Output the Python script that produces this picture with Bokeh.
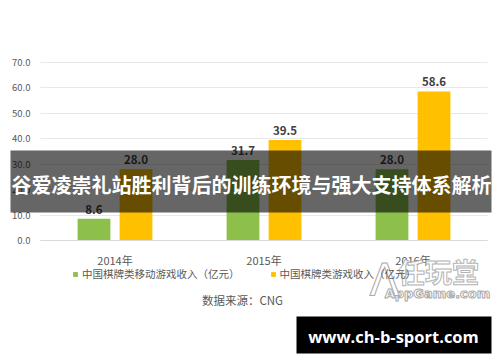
import numpy as np
from bokeh.plotting import figure
from bokeh.models import (Range1d, ColumnDataSource, FixedTicker,
                          NumeralTickFormatter, BoxAnnotation, Label)
from bokeh.transform import dodge
from bokeh.core.properties import value
from bokeh.embed import file_html
from bokeh.resources import INLINE

# ---- data ----
years = ["2014年", "2015年", "2016年"]
mobile_revenue = [8.6, 31.7, 28.0]   # 中国棋牌类移动游戏收入（亿元）
total_revenue = [28.0, 39.5, 58.6]   # 中国棋牌类游戏收入（亿元）
y_ticks = [0, 10, 20, 30, 40, 50, 60, 70]
mobile_name = "中国棋牌类移动游戏收入（亿元）"
total_name = "中国棋牌类游戏收入（亿元）"
source_text = "数据来源：CNG"
banner_text = "谷爱凌崇礼站胜利背后的训练环境与强大支持体系解析"
watermark_text = "www.ch-b-sport.com"

GREEN = "#8cc04b"
YELLOW = "#ffc000"
CJK = "Noto Sans CJK SC"

# ---- geometry (canvas pixels) ----
W_PX, H_PX = 500, 362
A_LEFT, A_RIGHT, A_TOP, A_BOTTOM = 40, 487, 62, 240
n = len(years)
ymax = y_ticks[-1]
xppu = (A_RIGHT - A_LEFT) / n
yppu = (A_BOTTOM - A_TOP) / ymax
x_range = Range1d(-A_LEFT / xppu, n + (W_PX - A_RIGHT) / xppu)
y_range = Range1d(-(H_PX - A_BOTTOM) / yppu, ymax + A_TOP / yppu)

xc = np.arange(n) + 0.5
src = ColumnDataSource(dict(
    x=xc,
    mobile=mobile_revenue,
    total=total_revenue,
    mobile_lbl=[f"{v:.1f}" for v in mobile_revenue],
    total_lbl=[f"{v:.1f}" for v in total_revenue],
))

p = figure(width=W_PX, height=H_PX, x_range=x_range, y_range=y_range,
           output_backend="svg", toolbar_location=None, min_border=0)
p.outline_line_color = None
p.background_fill_color = "white"
p.border_fill_color = "white"

OFF = 0.141
BW = 0.22
p.vbar(x=dodge("x", -OFF), top="mobile", width=BW, source=src,
       color=GREEN, line_color=None, legend_label=mobile_name)
p.vbar(x=dodge("x", OFF), top="total", width=BW, source=src,
       color=YELLOW, line_color=None, legend_label=total_name)

for lbl, ycol, off in (("mobile_lbl", "mobile", -OFF), ("total_lbl", "total", OFF)):
    p.text(x=dodge("x", off), y=ycol, text=lbl, source=src,
           text_align="center", text_baseline="bottom", y_offset=-5,
           text_font=value(CJK), text_font_size="11.5px", text_font_style="bold",
           text_color="#404040")

# ---- axes (fixed inside the canvas, zero panel size) ----
yt = FixedTicker(ticks=y_ticks)
p.yaxis.fixed_location = 0
p.yaxis.ticker = yt
p.yaxis.bounds = (0, ymax)
p.yaxis.formatter = NumeralTickFormatter(format="0.0")
p.yaxis.axis_line_color = None
p.yaxis.major_tick_line_color = None
p.yaxis.minor_tick_line_color = None
p.yaxis.major_tick_out = 0
p.yaxis.major_tick_in = 0
p.yaxis.major_label_standoff = 10
p.yaxis.major_label_text_font = CJK
p.yaxis.major_label_text_font_size = "9.5px"
p.yaxis.major_label_text_color = "#595959"

p.xaxis.fixed_location = 0
p.xaxis.ticker = FixedTicker(ticks=list(xc))
p.xaxis.major_label_overrides = {float(k): v for k, v in zip(xc, years)}
p.xaxis.bounds = (0, n)
p.xaxis.axis_line_color = "#d9d9d9"
p.xaxis.major_tick_line_color = None
p.xaxis.minor_tick_line_color = None
p.xaxis.major_tick_out = 0
p.xaxis.major_tick_in = 0
p.xaxis.major_label_standoff = 11
p.xaxis.major_label_text_font = CJK
p.xaxis.major_label_text_font_size = "11px"
p.xaxis.major_label_text_color = "#595959"

p.xgrid.grid_line_color = None
g = p.ygrid[0]
g.ticker = yt
g.grid_line_color = "#e8e8e8"
if "cross_bounds" in g.properties():
    g.cross_bounds = (0, n)

# ---- legend ----
lg = p.legend[0]
lg.location = (72, 81)
lg.orientation = "horizontal"
lg.border_line_color = None
lg.background_fill_alpha = 0
lg.padding = 0
lg.margin = 0
lg.spacing = 30
lg.glyph_width = 6
lg.glyph_height = 6
lg.label_standoff = 4
lg.label_height = 13
lg.label_text_font = CJK
lg.label_text_font_size = "10.5px"
lg.label_text_color = "#595959"

# canvas px -> screen units of the (full-canvas) frame
def sx(cx):
    return cx
def sy(cy):
    return H_PX - cy

p.add_layout(Label(x=sx(242), y=sy(299), x_units="screen", y_units="screen", text=source_text,
                   text_align="center", text_baseline="middle", text_font=CJK,
                   text_font_size="11.5px", text_color="#595959"))

# faint logo watermark
p.add_layout(Label(x=sx(438), y=sy(271), x_units="screen", y_units="screen", text="任玩堂",
                   text_align="center", text_baseline="middle", text_font=CJK,
                   text_font_size="27px", text_font_style="bold", text_color="#ffffff",
                   text_alpha=0.9, text_outline_color="#aaaaaa"))
p.add_layout(Label(x=sx(437), y=sy(293), x_units="screen", y_units="screen", text="AppGame.com",
                   text_align="center", text_baseline="middle", text_font="DejaVu Sans",
                   text_font_size="13px", text_font_style="bold", text_color="#ffffff",
                   text_outline_color="#aaaaaa"))
p.add_layout(Label(x=sx(384), y=sy(280), x_units="screen", y_units="screen", text="Λ",
                   text_align="center", text_baseline="middle", text_font="DejaVu Sans",
                   text_font_size="44px", text_color="#ffffff",
                   text_outline_color="#aaaaaa"))

# dark banner
p.add_layout(BoxAnnotation(left=sx(10), right=sx(491), top=sy(150), bottom=sy(212),
                           left_units="screen", right_units="screen",
                           top_units="screen", bottom_units="screen",
                           fill_color="black", fill_alpha=0.6, line_color=None))
p.add_layout(Label(x=sx(11), y=sy(184), x_units="screen", y_units="screen", text=banner_text,
                   text_align="left", text_baseline="middle", text_font=CJK,
                   text_font_size="20px", text_font_style="bold", text_color="white"))

# site watermark
p.add_layout(BoxAnnotation(left=sx(296), right=sx(491), top=sy(316), bottom=sy(353),
                           left_units="screen", right_units="screen",
                           top_units="screen", bottom_units="screen",
                           fill_color="black", fill_alpha=1.0, line_color=None))
p.add_layout(Label(x=sx(393), y=sy(336), x_units="screen", y_units="screen", text=watermark_text,
                   text_align="center", text_baseline="middle", text_font="Open Sans",
                   text_font_size="16.5px", text_font_style="bold", text_color="white"))

open("out.html", "w").write(file_html(p, INLINE))
